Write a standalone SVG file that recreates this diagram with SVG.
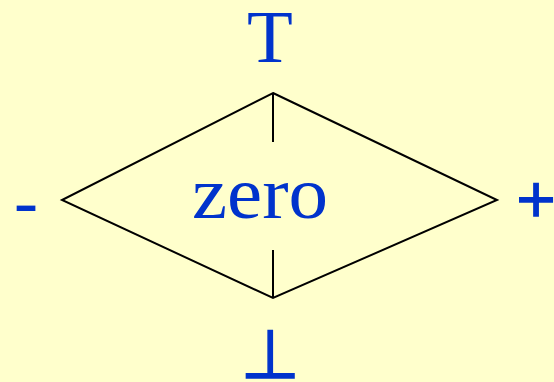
<svg xmlns="http://www.w3.org/2000/svg" width="554" height="382" viewBox="0 0 554 382">
<style>
.lbl{font-family:"Liberation Serif","Times New Roman",serif;fill:#0033CC;text-anchor:middle}
.sym{font-family:"DejaVu Sans",sans-serif;fill:#0033CC;stroke:#0033CC;stroke-width:1.5;text-anchor:middle}
.edge{stroke:#000;stroke-width:2;fill:none}
</style>
<rect width="554" height="382" fill="#FFFFCC"/>
<g id="connectors">
<polygon class="edge" points="273,93 497,200 273,298 62,200"/>
<line class="edge" x1="273" y1="93" x2="273" y2="142"/>
<line class="edge" x1="273" y1="250" x2="273" y2="298"/>
</g>
<g id="top"><text class="lbl" x="270" y="62" font-size="75">T</text></g>
<g id="minus"><text class="lbl" x="26" y="225" font-size="72">-</text></g>
<g id="plus"><text class="sym" x="536" y="216" font-size="52">+</text></g>
<g id="zero"><text class="lbl" x="260" y="218" font-size="74" textLength="136" lengthAdjust="spacingAndGlyphs">zero</text></g>
<g id="bottom"><text class="sym" x="270" y="378" font-size="68">⊥</text></g>
</svg>
